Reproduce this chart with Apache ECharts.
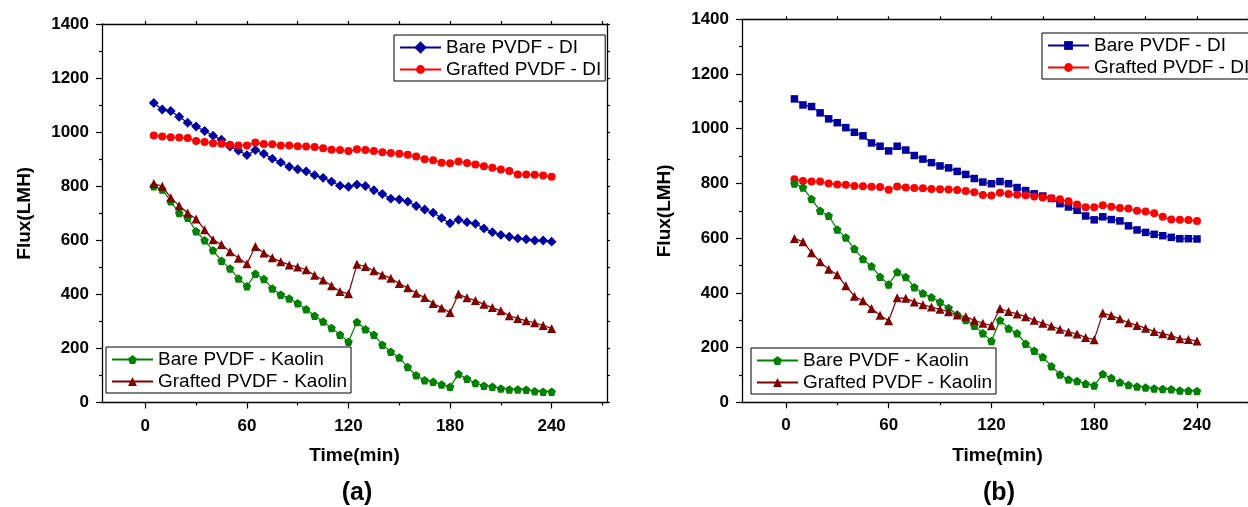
<!DOCTYPE html>
<html lang="en">

<head>
    <meta charset="utf-8">
    <title>Flux vs time</title>
    <script type="text/javascript" src="https://cdn.jsdelivr.net/npm/echarts@6/dist/echarts.min.js"></script>
    <style>
        html, body { margin: 0; padding: 0; background: #fff; overflow: hidden; width: 1248px; height: 507px; }
        .Panel { position: absolute; top: 0; height: 507px; }
        #PanelA { left: 0; width: 624px; }
        #PanelB { left: 624px; width: 660px; }
    </style>
</head>

<body>
    <div id="PanelA" class="Panel"></div>
    <div id="PanelB" class="Panel"></div>

    <script type="text/javascript">
        // time axis (min)
        const timeMin = [5, 10, 15, 20, 25, 30, 35, 40, 45, 50, 55, 60,
            65, 70, 75, 80, 85, 90, 95, 100, 105, 110, 115, 120,
            125, 130, 135, 140, 145, 150, 155, 160, 165, 170, 175, 180,
            185, 190, 195, 200, 205, 210, 215, 220, 225, 230, 235, 240];
        const timeLabels = [0, 60, 120, 180, 240];
        const timeMinorTicks = [30, 90, 150, 210, 270];
        const timeTopTicks = [0, 30, 60, 90, 120, 150, 180, 210, 240, 270];

        const seriesNames = ['Bare PVDF - DI', 'Grafted PVDF - DI', 'Bare PVDF - Kaolin', 'Grafted PVDF - Kaolin'];

        // panel (a)
        const aBareDI = [1108, 1084, 1078, 1057, 1035, 1021, 1004, 987, 972, 947, 932, 915,
            934, 920, 902, 888, 872, 863, 855, 841, 831, 817, 802, 798,
            806, 801, 785, 771, 754, 751, 743, 727, 714, 702, 682, 663,
            676, 667, 661, 644, 630, 620, 613, 607, 604, 599, 599, 595];
        const aGraftedDI = [988, 984, 981, 980, 978, 967, 964, 959, 957, 953, 951, 951,
            962, 956, 955, 951, 951, 948, 947, 945, 940, 935, 934, 930,
            937, 934, 930, 926, 923, 920, 916, 910, 900, 896, 887, 885,
            891, 886, 880, 874, 868, 862, 856, 843, 843, 842, 840, 835];
        const aBareKaolin = [800, 788, 744, 701, 683, 633, 600, 563, 524, 496, 459, 430,
            476, 457, 422, 399, 385, 367, 345, 321, 300, 276, 251, 225,
            298, 271, 251, 214, 188, 166, 131, 101, 82, 77, 67, 58,
            105, 88, 72, 62, 58, 52, 48, 48, 47, 42, 40, 40];
        const aGraftedKaolin = [810, 800, 757, 728, 701, 679, 639, 602, 584, 558, 534, 513,
            577, 553, 535, 521, 509, 501, 491, 471, 453, 432, 411, 402,
            511, 503, 487, 472, 460, 440, 424, 404, 388, 366, 350, 333,
            401, 387, 377, 363, 351, 339, 321, 311, 302, 295, 285, 274];

        // panel (b)
        const bBareDI = [1109, 1087, 1081, 1058, 1036, 1022, 1004, 987, 974, 948, 936, 919,
            936, 922, 902, 889, 876, 864, 857, 844, 833, 818, 805, 799,
            807, 799, 785, 774, 762, 754, 745, 726, 714, 702, 681, 667,
            678, 668, 663, 645, 630, 621, 614, 609, 603, 598, 598, 597];
        const bGraftedDI = [815, 809, 807, 807, 800, 796, 795, 791, 790, 788, 787, 777,
            789, 785, 783, 782, 780, 779, 778, 776, 772, 768, 758, 756,
            766, 761, 759, 757, 752, 749, 746, 742, 735, 723, 713, 713,
            720, 715, 710, 708, 700, 697, 691, 678, 668, 667, 666, 663];
        const bBareKaolin = [800, 785, 743, 700, 682, 632, 602, 561, 524, 497, 459, 431,
            476, 458, 421, 399, 384, 367, 345, 321, 301, 280, 252, 224,
            300, 270, 252, 214, 188, 166, 132, 102, 83, 78, 68, 61,
            103, 89, 73, 63, 58, 54, 50, 49, 48, 43, 42, 41];
        const bGraftedKaolin = [599, 587, 547, 514, 486, 466, 426, 388, 371, 343, 318, 298,
            382, 380, 367, 357, 348, 340, 331, 319, 313, 300, 289, 280,
            343, 332, 323, 313, 300, 289, 279, 267, 257, 250, 237, 229,
            326, 317, 305, 291, 281, 271, 259, 251, 244, 232, 230, 224];

        const FONT = 'Liberation Sans, Arial, Helvetica, sans-serif';
        const X_MIN = -25.6;
        const X_MAX = 272.7;
        const PENTAGON = 'path://M0,-10L9.51,-3.09L5.88,8.09L-5.88,8.09L-9.51,-3.09Z';

        function pairs(values) {
            return timeMin.map(function (t, i) { return [t, values[i]]; });
        }

        function lineSeries(name, values, color, symbol, size, rotate) {
            return {
                type: 'line',
                name: name,
                data: pairs(values),
                xAxisIndex: 0,
                yAxisIndex: 0,
                symbol: symbol,
                symbolSize: size,
                symbolRotate: rotate || 0,
                lineStyle: { color: color, width: 1.2 },
                itemStyle: { color: color },
                emphasis: { disabled: true }
            };
        }

        function legendBox(names, left, top) {
            return {
                data: names,
                orient: 'vertical',
                left: left,
                top: top,
                itemWidth: 41,
                itemHeight: 11,
                itemGap: 3,
                padding: [3, 4, 2, 5],
                borderColor: '#000',
                borderWidth: 1,
                selectedMode: false,
                textStyle: { fontSize: 19, color: '#000', fontFamily: FONT }
            };
        }

        function panelOption(p) {
            const axisLine = { show: true, onZero: false, lineStyle: { color: '#000', width: 1.3 } };
            const tickStyle = { color: '#000', width: 1.2 };
            const boldLabel = { fontSize: 17, fontWeight: 'bold', color: '#000', fontFamily: FONT };
            const nameStyle = { fontSize: 19, fontWeight: 'bold', color: '#000', fontFamily: FONT };
            return {
                animation: false,
                backgroundColor: '#fff',
                grid: { left: p.left, top: p.top, width: p.width, height: p.height },
                xAxis: [
                    {
                        type: 'value', position: 'bottom', min: X_MIN, max: X_MAX,
                        name: 'Time(min)', nameLocation: 'middle', nameGap: 44, nameTextStyle: nameStyle,
                        axisLine: axisLine,
                        axisTick: { show: true, customValues: timeLabels, length: 6, lineStyle: tickStyle },
                        axisLabel: { customValues: timeLabels, margin: 15, ...boldLabel },
                        splitLine: { show: false }
                    },
                    {
                        type: 'value', position: 'bottom', min: X_MIN, max: X_MAX,
                        axisLine: { show: false },
                        axisTick: { show: true, customValues: timeMinorTicks, length: 3, lineStyle: tickStyle },
                        axisLabel: { show: false },
                        splitLine: { show: false }
                    },
                    {
                        type: 'value', position: 'top', min: X_MIN, max: X_MAX,
                        axisLine: axisLine,
                        axisTick: { show: true, customValues: timeTopTicks, length: 3, lineStyle: tickStyle },
                        axisLabel: { show: false },
                        splitLine: { show: false }
                    }
                ],
                yAxis: [
                    {
                        type: 'value', position: 'left', min: 0, max: 1400, interval: 200,
                        name: 'Flux(LMH)', nameLocation: 'middle', nameGap: 68, nameTextStyle: nameStyle,
                        axisLine: axisLine,
                        axisTick: { show: true, length: 6, lineStyle: tickStyle },
                        minorTick: { show: true, splitNumber: 2, length: 3, lineStyle: tickStyle },
                        axisLabel: { margin: 13, formatter: function (v) { return String(v); }, ...boldLabel },
                        splitLine: { show: false },
                        minorSplitLine: { show: false }
                    },
                    {
                        type: 'value', position: 'right', min: 0, max: 1400, interval: 100,
                        axisLine: axisLine,
                        axisTick: { show: true, length: 3, lineStyle: tickStyle },
                        axisLabel: { show: false },
                        splitLine: { show: false }
                    }
                ],
                legend: [
                    legendBox([seriesNames[0], seriesNames[1]], p.legendTop[0], p.legendTop[1]),
                    legendBox([seriesNames[2], seriesNames[3]], p.legendBottom[0], p.legendBottom[1])
                ],
                graphic: [{
                    type: 'text',
                    x: p.caption[0],
                    y: p.caption[1],
                    style: {
                        text: p.captionText,
                        align: 'center',
                        verticalAlign: 'top',
                        fontSize: 25,
                        fontWeight: 'bold',
                        fontFamily: FONT,
                        fill: '#000'
                    }
                }],
                series: p.series
            };
        }

        const chartA = echarts.init(document.getElementById('PanelA'));
        chartA.setOption(panelOption({
            left: 102, top: 24, width: 505, height: 378.5,
            legendTop: [394, 35],
            legendBottom: [106, 347],
            caption: [357, 481],
            captionText: '(a)',
            series: [
                lineSeries(seriesNames[0], aBareDI, '#0000a0', 'rect', 7, 45),
                lineSeries(seriesNames[1], aGraftedDI, '#ff0000', 'circle', 8),
                lineSeries(seriesNames[2], aBareKaolin, '#008000', PENTAGON, 8.5),
                lineSeries(seriesNames[3], aGraftedKaolin, '#800000', 'triangle', 9)
            ]
        }));

        const chartB = echarts.init(document.getElementById('PanelB'));
        chartB.setOption(panelOption({
            left: 118, top: 19.3, width: 511, height: 383,
            legendTop: [418, 33],
            legendBottom: [127, 348],
            caption: [375, 481],
            captionText: '(b)',
            series: [
                lineSeries(seriesNames[0], bBareDI, '#0000a0', 'rect', 7.5),
                lineSeries(seriesNames[1], bGraftedDI, '#ff0000', 'circle', 8),
                lineSeries(seriesNames[2], bBareKaolin, '#008000', PENTAGON, 8.5),
                lineSeries(seriesNames[3], bGraftedKaolin, '#800000', 'triangle', 9)
            ]
        }));
    </script>
</body>

</html>
